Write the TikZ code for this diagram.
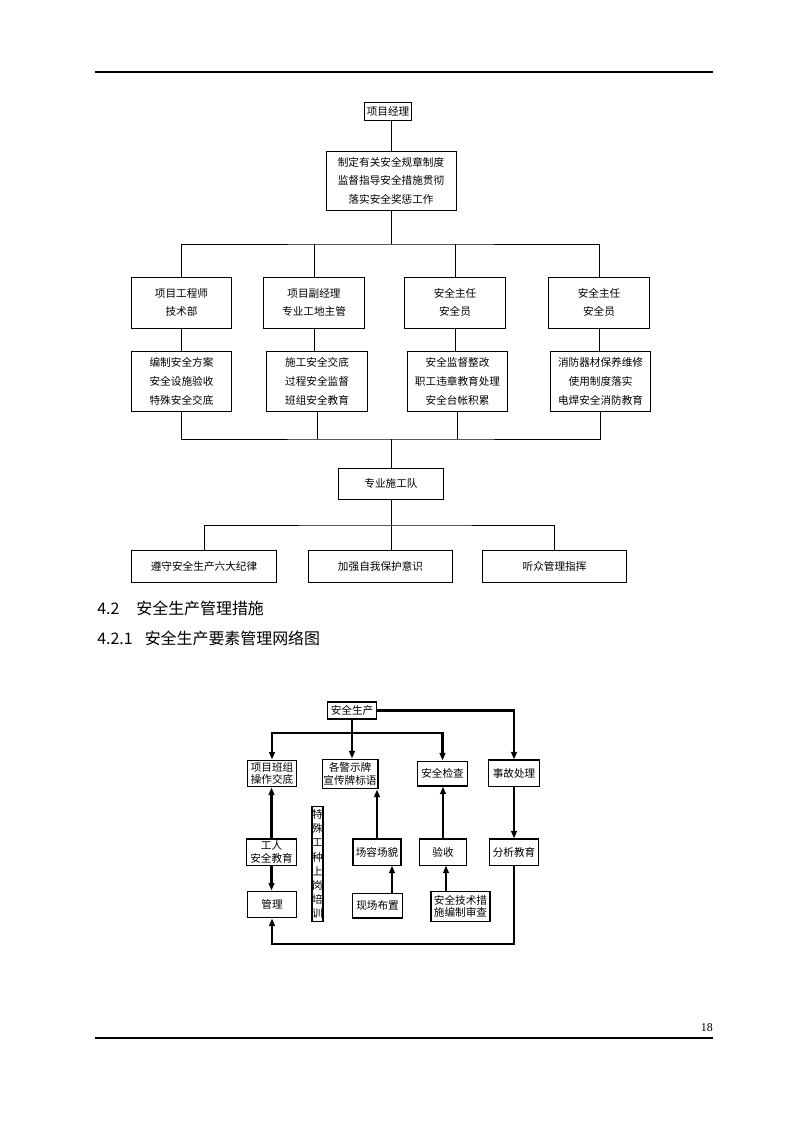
\documentclass[tikz,border=0pt]{standalone}
\usepackage{fontspec}
\setmainfont{Liberation Serif}
\newfontfamily\cjk{Noto Sans CJK SC}
\usepackage{tikz}
\usetikzlibrary{arrows.meta,calc}
\tikzset{
  orgbox/.style={rectangle, draw, line width=0.7pt, inner sep=0pt, align=center,
                 font=\cjk\fontsize{8}{14}\selectfont},
  rowtwo/.style={orgbox, minimum width=26.5mm, minimum height=13.5mm, font=\cjk\fontsize{8}{13}\selectfont},
  rowthree/.style={orgbox, minimum width=26.5mm, minimum height=16.1mm},
  rowfive/.style={orgbox, minimum width=38.3mm, minimum height=8.7mm},
  tree/.style={line width=0.7pt},
  netbox/.style={rectangle, draw, line width=0.8pt, inner sep=0pt, align=center,
                 font=\cjk\fontsize{8}{9.6}\selectfont, minimum width=13mm, minimum height=6.9mm},
  link/.style={line width=1.6pt},
  flow/.style={link, -{Triangle[length=2mm, width=1.5mm]}},
  head/.style={anchor=west, inner sep=0pt, font=\cjk\fontsize{12}{14}\selectfont}
}
\begin{document}
\begin{tikzpicture}[x=0.26458mm, y=-0.26458mm]
\path[use as bounding box, fill=white] (0,0) rectangle (794,1123);
\draw[line width=0.8pt] (95,72) -- (713,72);
\draw[line width=0.8pt] (95,1038) -- (713,1038);
\node[anchor=east, inner sep=0pt, font=\fontsize{9}{10}\selectfont] (pg) at (713,1028) {18};

\node[orgbox, minimum width=12.4mm, minimum height=5mm] (pm) at (388,111.5) {项目经理};
\node[orgbox, minimum width=34.4mm, minimum height=15.6mm] (duty) at (391,180.5)
  {制定有关安全规章制度\\监督指导安全措施贯彻\\落实安全奖惩工作};
\node[rowtwo] (a2) at (181.5,302.5) {项目工程师\\技术部};
\node[rowtwo] (b2) at (314,302.5) {项目副经理\\专业工地主管};
\node[rowtwo] (c2) at (455,302.5) {安全主任\\安全员};
\node[rowtwo] (d2) at (599,302.5) {安全主任\\安全员};
\node[rowthree] (a3) at (181.5,381.5) {编制安全方案\\安全设施验收\\特殊安全交底};
\node[rowthree] (b3) at (317,381.5) {施工安全交底\\过程安全监督\\班组安全教育};
\node[rowthree] (c3) at (457.5,381.5) {安全监督整改\\职工违章教育处理\\安全台帐积累};
\node[rowthree] (d3) at (600.5,381.5) {消防器材保养维修\\使用制度落实\\电焊安全消防教育};
\node[orgbox, minimum width=28mm, minimum height=8.2mm] (team) at (391,483.5) {专业施工队};
\node[rowfive] (e1) at (204,566.5) {遵守安全生产六大纪律};
\node[rowfive] (e2) at (380.5,566.5) {加强自我保护意识};
\node[rowfive] (e3) at (554.5,566.5) {听众管理指挥};
\coordinate (bus1) at (391,244);
\coordinate (bus2) at (391,439);
\coordinate (bus3) at (391,525);
\draw[tree] (duty.north) -- (duty.north |- pm.south);
\draw[tree] (duty.south) -- (bus1);
\draw[tree] (a2.north) |- (bus1) -| (d2.north);
\draw[tree] (b2.north) -- (b2.north |- bus1);
\draw[tree] (c2.north) -- (c2.north |- bus1);
\draw[tree] (a2.south) -- (a2.south |- a3.north);
\draw[tree] (b2.south) -- (b2.south |- b3.north);
\draw[tree] (c2.south) -- (c2.south |- c3.north);
\draw[tree] (d2.south) -- (d2.south |- d3.north);
\draw[tree] (a3.south) |- (bus2) -| (d3.south);
\draw[tree] (b3.south) -- (b3.south |- bus2);
\draw[tree] (c3.south) -- (c3.south |- bus2);
\draw[tree] (bus2) -- (team.north);
\draw[tree] (team.south) -- (bus3);
\draw[tree] (e1.north) |- (bus3) -| (e3.north);
\draw[tree] (bus3) -- (bus3 |- e2.north);

\node[head] (h1) at (97,608) {4.2\hspace{4.5mm}安全生产管理措施};
\node[head] (h2) at (97,638) {4.2.1\hspace{3.2mm}安全生产要素管理网络图};

\node[netbox, minimum height=4.5mm] (safe) at (352,710.5) {安全生产};
\node[netbox, minimum width=13.2mm, minimum height=7.1mm] (b1) at (272,773.5) {项目班组\\操作交底};
\node[netbox, minimum width=14.8mm, minimum height=7.9mm] (bb) at (350,774) {各警示牌\\宣传牌标语};
\node[netbox, minimum height=6.6mm] (b3) at (442.5,773.5) {安全检查};
\node[netbox, minimum width=13.5mm] (b4) at (514,773) {事故处理};
\node[netbox] (w1) at (271.5,852) {工人\\安全教育};
\node[netbox, minimum width=2.9mm, minimum height=30.2mm, font=\cjk\fontsize{8}{10.6}\selectfont]
  (sp) at (317.5,864) {特\\殊\\工\\种\\上\\岗\\培\\训};
\node[netbox, minimum width=12.7mm] (w2) at (377,852) {场容场貌};
\node[netbox, minimum width=12.4mm] (w3) at (443,852) {验收};
\node[netbox] (w4) at (514,852) {分析教育};
\node[netbox, minimum width=13.2mm, minimum height=7.1mm] (m1) at (272,904.5) {管理};
\node[netbox, minimum height=6.6mm] (m2) at (377.5,905.5) {现场布置};
\node[netbox, minimum width=15.6mm, minimum height=7.7mm] (m3) at (460.5,906.5) {安全技术措\\施编制审查};
\coordinate (bus) at (352,733);
\coordinate (m2up) at (392,893);
\coordinate (m3up) at (446,892);
\coordinate (loop) at (514,944);
\draw[flow] (safe.south) -- (safe.south |- bb.north);
\draw[flow] (bus) -| (b1.north);
\draw[flow] (bus) -| (b3.north);
\draw[flow] (safe.east) -| (b4.north);
\draw[flow] (w1.north) -- (w1.north |- b1.south);
\draw[flow] (w1.south) -- (w1.south |- m1.north);
\draw[flow] (w2.north) -- (w2.north |- bb.south);
\draw[flow] (m2up) -- (m2up |- w2.south);
\draw[flow] (w3.north) -- (w3.north |- b3.south);
\draw[flow] (m3up) -- (m3up |- w3.south);
\draw[flow] (b4.south) -- (b4.south |- w4.north);
\draw[flow] (w4.south) -- (loop) -| (m1.south);
\end{tikzpicture}
\end{document}
